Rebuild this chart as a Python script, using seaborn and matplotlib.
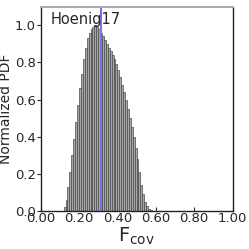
import matplotlib
matplotlib.use("Agg")
import matplotlib.pyplot as plt
import seaborn as sns
import pandas as pd

# bin centres (width 0.01) and normalized PDF heights
bin_centers = [0.125, 0.135, 0.145, 0.155, 0.165, 0.175, 0.185, 0.195, 0.205, 0.215,
               0.225, 0.235, 0.245, 0.255, 0.265, 0.275, 0.285, 0.295, 0.305, 0.315,
               0.325, 0.335, 0.345, 0.355, 0.365, 0.375, 0.385, 0.395, 0.405, 0.415,
               0.425, 0.435, 0.445, 0.455, 0.465, 0.475, 0.485, 0.495, 0.505, 0.515,
               0.525, 0.535, 0.545, 0.555, 0.565, 0.575]
pdf_vals = [0.02, 0.06, 0.13, 0.21, 0.30, 0.39, 0.48, 0.57, 0.66, 0.74,
            0.82, 0.88, 0.93, 0.96, 0.98, 0.99, 1.00, 0.99, 0.98, 0.96,
            0.94, 0.92, 0.90, 0.88, 0.86, 0.84, 0.82, 0.79, 0.76, 0.72,
            0.68, 0.64, 0.60, 0.55, 0.50, 0.45, 0.40, 0.34, 0.28, 0.21,
            0.14, 0.09, 0.05, 0.025, 0.01, 0.005]
mean_fcov = 0.313
label = "Hoenig17"
xticks = [0.0, 0.2, 0.4, 0.6, 0.8, 1.0]
yticks = [0.0, 0.2, 0.4, 0.6, 0.8, 1.0]

sns.set_style("ticks")
plt.rcParams['font.family'] = ['DejaVu Sans']
plt.rcParams['mathtext.fontset'] = 'dejavusans'

fig = plt.figure(figsize=(2.49, 2.49), dpi=100)
ax = fig.add_axes([0.163, 0.153, 0.771, 0.820])

df = pd.DataFrame({"fcov": bin_centers, "pdf": pdf_vals})
edges = [round(0.12 + 0.01 * i, 3) for i in range(len(bin_centers) + 1)]
sns.histplot(data=df, x="fcov", weights="pdf", bins=edges, ax=ax,
             color="#a8a8a8", edgecolor="#4a4a4a", linewidth=0.5, alpha=1.0)
ax.axvline(mean_fcov, color="#7575e6", lw=1.5)

ax.set_xlim(0, 1)
ax.set_ylim(0, 1.1)
ax.set_xticks(xticks)
ax.set_xticklabels([f"{t:.2f}" for t in xticks], fontsize=9.5)
ax.set_yticks(yticks)
ax.set_yticklabels([f"{t:.1f}" for t in yticks], fontsize=9.5)
ax.tick_params(axis='x', direction='in', length=3, pad=1)
ax.tick_params(axis='y', direction='out', length=3, pad=0.5)
ax.set_xlabel(r"F$_{\mathrm{cov}}$", fontsize=14, labelpad=0)
ax.set_ylabel("Normalized PDF", fontsize=10, labelpad=1)
ax.text(0.05, 0.975, label, transform=ax.transAxes, fontsize=10.5, va='top', ha='left')

for s in ['left', 'bottom', 'right']:
    ax.spines[s].set_color('#222222')
    ax.spines[s].set_linewidth(1.0)
ax.spines['top'].set_color('#aaaaaa')
ax.spines['top'].set_linewidth(1.5)

fig.savefig("out.png", dpi=100)
